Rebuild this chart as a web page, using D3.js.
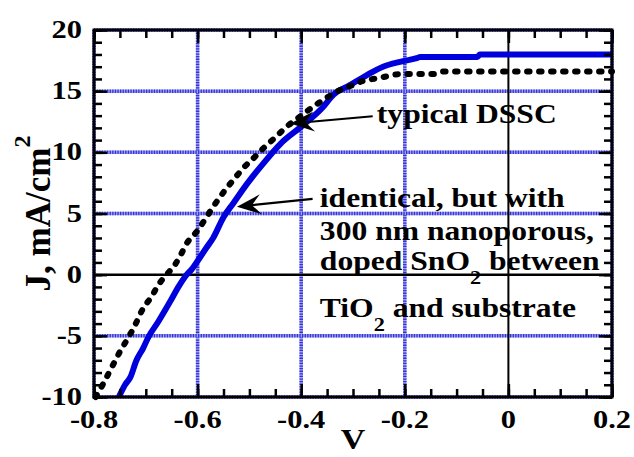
<!DOCTYPE html>
<html>
<head>
<meta charset="utf-8">
<script src="https://cdnjs.cloudflare.com/ajax/libs/d3/7.8.5/d3.min.js"></script>
<style>
  body { margin: 0; background: #fff; }
  text { font-family: "Liberation Serif", "Times New Roman", Times, "Nimbus Roman", "FreeSerif", serif; font-weight: bold; fill: #000; }
</style>
</head>
<body>
<svg id="chart"></svg>
<script>
// typical DSSC (black dotted curve)
var dsscV = [-0.797, -0.782, -0.766, -0.75, -0.736, -0.724, -0.705, -0.689, -0.676, -0.66,
             -0.644, -0.634, -0.621, -0.602, -0.586, -0.57, -0.547, -0.528, -0.512, -0.489,
             -0.47, -0.448, -0.428, -0.406, -0.386, -0.364, -0.344, -0.325, -0.306, -0.287,
             -0.267, -0.242, -0.209, -0.145, -0.125, 0.2];
var dsscJ = [-10, -8.9, -7.6, -6.3, -5.3, -4.4, -2.75, -1.8, -0.85, 0,
             0.8, 1.5, 2.56, 3.5, 4.5, 5.55, 6.9, 7.9, 8.7, 9.65,
             10.45, 11.3, 12.1, 12.8, 13.45, 14.1, 14.65, 15.1, 15.4, 15.75,
             15.95, 16.15, 16.4, 16.4, 16.6, 16.6];

// identical cell with SnO2 layer (blue solid curve)
var snoV = [-0.752, -0.74, -0.73, -0.718, -0.705, -0.695, -0.676, -0.653, -0.637, -0.621,
            -0.612, -0.602, -0.583, -0.57, -0.55, -0.53, -0.505, -0.473, -0.44, -0.40,
            -0.36, -0.338, -0.306, -0.274, -0.242, -0.209, -0.177, -0.17, -0.06, -0.055, 0.2];
var snoJ = [-10, -9.0, -8.4, -7.0, -6.0, -5.1, -3.85, -2.2, -1.0, 0,
            0.4, 1.0, 2.2, 3.0, 4.7, 5.9, 7.4, 9.1, 10.7, 12.1,
            13.6, 14.7, 15.5, 16.3, 17.0, 17.4, 17.7, 17.8, 17.8, 18.0, 18.0];

var xTicks = [-0.8, -0.6, -0.4, -0.2, 0, 0.2];
var xTickLabels = ["-0.8", "-0.6", "-0.4", "-0.2", "0", "0.2"];
var yTicks = [-10, -5, 0, 5, 10, 15, 20];
var yTickLabels = ["-10", "-5", "0", "5", "10", "15", "20"];

var dsscNote = "typical DSSC";
var snoNote = ["identical, but with", "300 nm nanoporous,", "doped SnO_2 between", "TiO_2 and substrate"];

var width = 634, height = 457;
var margin = {top: 30, right: 22, bottom: 60, left: 94},
    w = width - margin.left - margin.right,
    h = height - margin.top - margin.bottom;

var svg = d3.select("#chart")
    .attr("width", width)
    .attr("height", height);
var g = svg.append("g")
    .attr("transform", "translate(" + margin.left + "," + margin.top + ")");

// the original lettering is wider than the font; stretch to fit
var probe = g.append("text").style("font-size", "27px").text(snoNote[0]);
var SX = Math.max(0.9, Math.min(1.3, 245 / probe.node().getComputedTextLength()));
probe.remove();

var x = d3.scaleLinear().domain([-0.8, 0.2]).range([0, w]);
var y = d3.scaleLinear().domain([-10, 20]).range([h, 0]);

// ---- grid: dotted blue, zero lines solid black
function gridLines(sel) {
  sel.append("line").attr("stroke", "#a0a0f2").attr("stroke-width", 3.5);
  sel.append("line").attr("stroke", "#3434d6").attr("stroke-width", 3.5)
      .attr("stroke-dasharray", "1.3 1.3");
}
var vg = g.selectAll("g.vgrid")
    .data(xTicks.filter(function(d) { return d !== 0; }))
  .enter().append("g").attr("class", "vgrid");
gridLines(vg);
vg.selectAll("line")
    .attr("x1", function(d) { return x(d); }).attr("x2", function(d) { return x(d); })
    .attr("y1", 0).attr("y2", h);
var hg = g.selectAll("g.hgrid")
    .data(yTicks.filter(function(d) { return d !== 0; }))
  .enter().append("g").attr("class", "hgrid");
gridLines(hg);
hg.selectAll("line")
    .attr("x1", 0).attr("x2", w)
    .attr("y1", function(d) { return y(d); }).attr("y2", function(d) { return y(d); });

g.append("line")
    .attr("x1", x(0)).attr("x2", x(0)).attr("y1", 0).attr("y2", h)
    .attr("stroke", "#000").attr("stroke-width", 2);
g.append("line")
    .attr("x1", 0).attr("x2", w).attr("y1", y(0)).attr("y2", y(0))
    .attr("stroke", "#000").attr("stroke-width", 2.5);

// ---- curves
var line = d3.line()
    .x(function(d) { return x(d[0]); })
    .y(function(d) { return y(d[1]); })
    .curve(d3.curveMonotoneX);

g.append("path")
    .datum(d3.zip(snoV, snoJ))
    .attr("d", line)
    .attr("fill", "none")
    .attr("stroke", "#0000dc")
    .attr("stroke-width", 6)
    .attr("stroke-linejoin", "round");

g.append("path")
    .datum(d3.zip(dsscV, dsscJ))
    .attr("d", line)
    .attr("fill", "none")
    .attr("stroke", "#000")
    .attr("stroke-width", 6)
    .attr("stroke-linecap", "round")
    .attr("stroke-dasharray", "2.5 9.5");

// ---- ticks on all four sides, pointing inward
function ticks(axis, vals, size, tr) {
  var a = g.append("g")
      .attr("transform", tr)
      .call(axis.tickValues(vals).tickSize(-size).tickSizeOuter(0).tickFormat(""));
  a.select(".domain").remove();
  a.selectAll("line").attr("stroke", "#000").attr("stroke-width", 2.5);
}
var xMinor = x.ticks(20), yMinor = y.ticks(30);
ticks(d3.axisBottom(x), xMinor, 8, "translate(0," + h + ")");
ticks(d3.axisBottom(x), xTicks, 13, "translate(0," + h + ")");
ticks(d3.axisTop(x), xMinor, 8, "translate(0,0)");
ticks(d3.axisTop(x), xTicks, 13, "translate(0,0)");
ticks(d3.axisLeft(y), yMinor, 8, "translate(0,0)");
ticks(d3.axisLeft(y), yTicks, 13, "translate(0,0)");
ticks(d3.axisRight(y), yMinor, 8, "translate(" + w + ",0)");
ticks(d3.axisRight(y), yTicks, 13, "translate(" + w + ",0)");

g.append("rect")
    .attr("width", w).attr("height", h)
    .attr("fill", "none").attr("stroke", "#000").attr("stroke-width", 3);

// ---- tick labels
function wideText(px, py, str, size, anchor) {
  return g.append("g")
      .attr("transform", "translate(" + px + "," + py + ") scale(" + SX + ",1)")
    .append("text")
      .attr("text-anchor", anchor)
      .style("font-size", size + "px")
      .text(str);
}
xTicks.forEach(function(d, i) { wideText(x(d), h + 31, xTickLabels[i], 26, "middle"); });
yTicks.forEach(function(d, i) { wideText(-12, y(d) + 8, yTickLabels[i], 26, "end"); });

// ---- axis titles
wideText(w / 2, h + 52, "V", 29, "middle");
var yl = g.append("text")
    .attr("transform", "translate(-44," + (h / 2) + ") rotate(-90)")
    .attr("text-anchor", "middle")
    .style("font-size", "35px");
yl.append("tspan").text("J, mA/cm");
yl.append("tspan").attr("dy", -20).style("font-size", "24px").text("2");

// ---- annotations
function noteLine(v, j, str) {
  var t = wideText(x(v), y(j), "", 27, "start");
  var parts = str.split("_");
  t.append("tspan").text(parts[0]);
  if (parts.length > 1) {
    t.append("tspan").attr("dy", 14).style("font-size", "19px").text(parts[1].charAt(0));
    t.append("tspan").attr("dy", -14).text(parts[1].slice(1));
  }
}
function arrow(v1, j1, v2, j2) {
  var x1 = x(v1), y1 = y(j1), x2 = x(v2), y2 = y(j2);
  var dx = x1 - x2, dy = y1 - y2, len = Math.sqrt(dx * dx + dy * dy);
  var ux = dx / len, uy = dy / len;
  var L = 24, W = 10, N = 15;
  g.append("line")
      .attr("x1", x1).attr("y1", y1)
      .attr("x2", x2 + ux * N).attr("y2", y2 + uy * N)
      .attr("stroke", "#000").attr("stroke-width", 2.2);
  g.append("path")
      .attr("d", "M" + x2 + "," + y2 +
        "L" + (x2 + ux * L - uy * W) + "," + (y2 + uy * L + ux * W) +
        "L" + (x2 + ux * N) + "," + (y2 + uy * N) +
        "L" + (x2 + ux * L + uy * W) + "," + (y2 + uy * L - ux * W) + "Z")
      .attr("fill", "#000");
}

arrow(-0.262, 12.95, -0.421, 12.35);
noteLine(-0.254, 12.4, dsscNote);

arrow(-0.378, 6.2, -0.524, 5.55);
var noteJ = [5.56, 2.83, 0.38, -3.44];
snoNote.forEach(function(s, i) { noteLine(-0.364, noteJ[i], s); });
</script>
</body>
</html>
